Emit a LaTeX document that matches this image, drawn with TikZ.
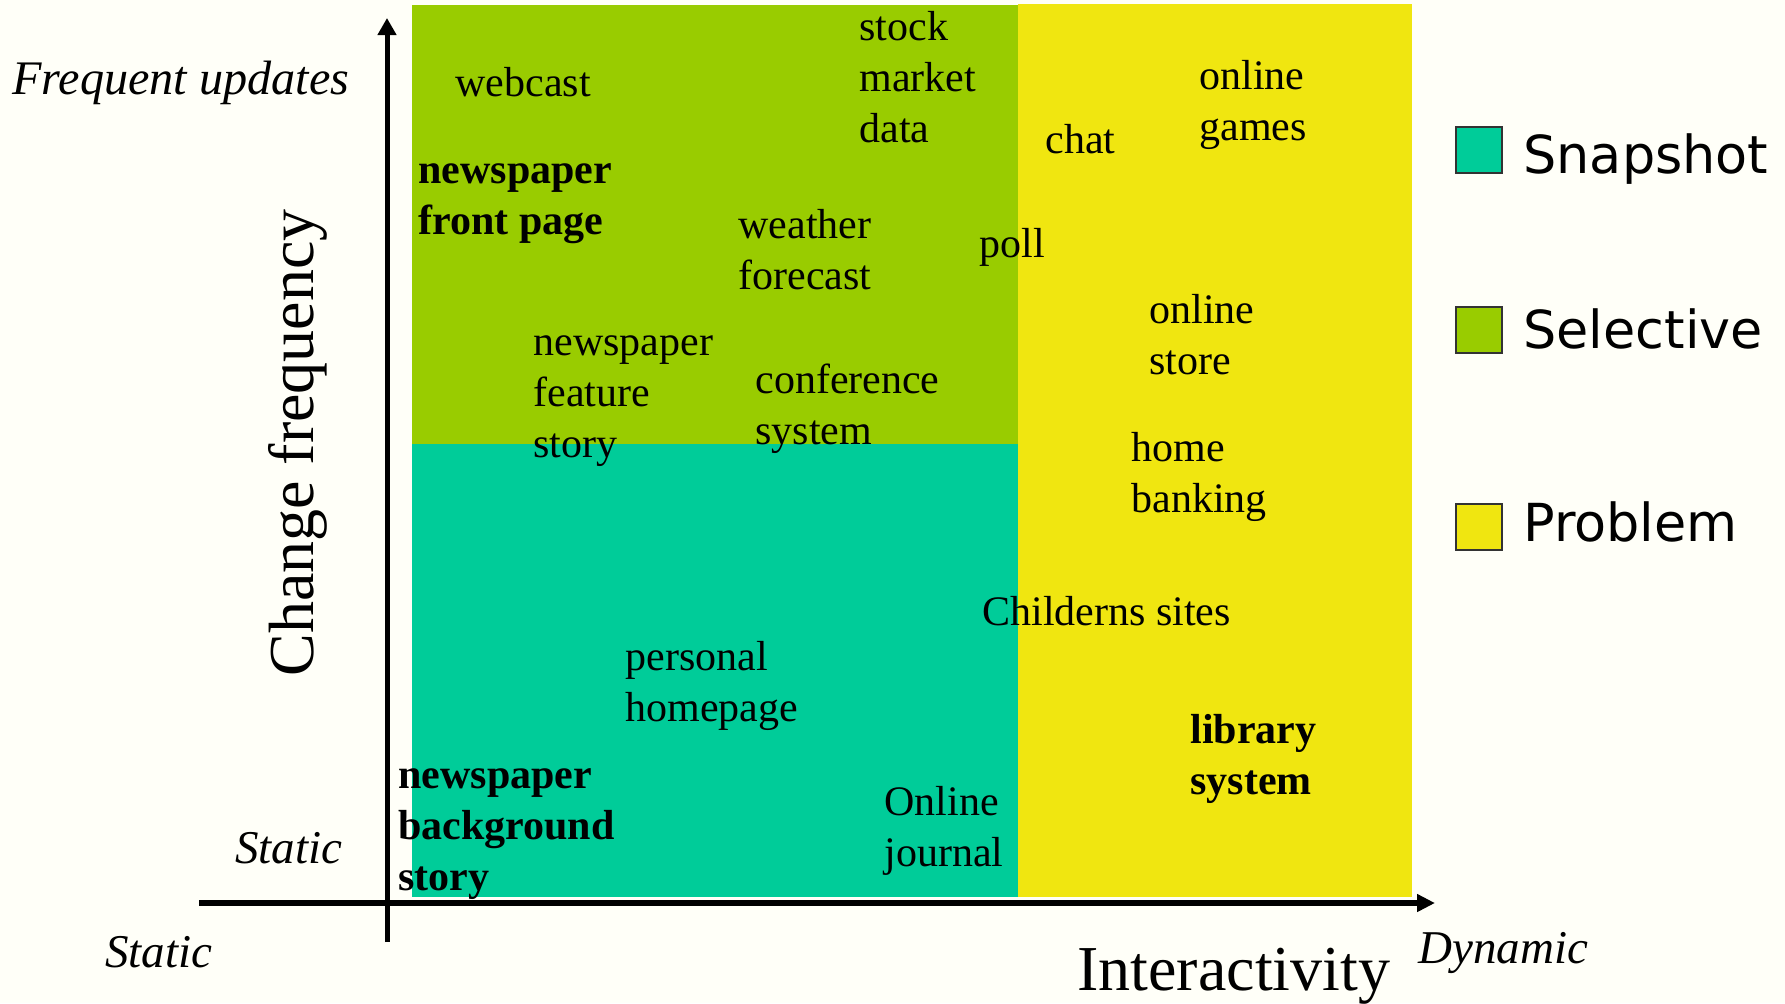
\documentclass[tikz,border=0pt]{standalone}
\usepackage{fontspec}
\setmainfont{Liberation Serif}
\newfontfamily\legfont{DejaVu Sans}
\usetikzlibrary{arrows.meta}
\definecolor{bgc}{RGB}{255,255,248}
\definecolor{selgreen}{RGB}{153,204,0}
\definecolor{snapteal}{RGB}{0,204,153}
\definecolor{probyellow}{RGB}{240,230,16}
\newcommand{\twol}[2]{\vtop{\hbox{#1}\hbox{#2}}}
\newcommand{\threel}[3]{\vtop{\hbox{#1}\hbox{#2}\hbox{#3}}}
\begin{document}
\begin{tikzpicture}[x=0.5pt,y=-0.5pt,
  lbl/.style={anchor=base west, inner sep=0pt, font=\fontsize{21}{25.5}\selectfont},
  blbl/.style={anchor=base west, inner sep=0pt, font=\fontsize{21}{25.5}\selectfont\bfseries},
  ital/.style={anchor=base west, inner sep=0pt, font=\fontsize{23.5}{28}\selectfont\itshape},
  axtitle/.style={anchor=base west, inner sep=0pt, font=\fontsize{32}{38}\selectfont},
  legbox/.style={draw=black!80, line width=0.75pt, minimum size=23pt, inner sep=0pt},
  legtext/.style={anchor=base west, inner sep=0pt, font=\legfont\fontsize{26.2}{31}\selectfont},
  xaxis/.style={line width=3pt, -{Triangle[length=9pt,width=8.5pt]}},
  yaxis/.style={line width=2.5pt, -{Triangle[length=8.5pt,width=9pt]}}]
\useasboundingbox (0,0) rectangle (1785,1003);
\fill[bgc] (0,0) rectangle (1785,1003);
% regions
\fill[selgreen] (412,5) rectangle (1018,444);
\fill[snapteal] (412,444) rectangle (1018,897);
\fill[probyellow] (1018,4) rectangle (1412,897);
% axes
\coordinate (xs) at (199,903);
\coordinate (xe) at (1435,903);
\coordinate (ys) at (387,942);
\coordinate (ye) at (387,18);
\draw[xaxis] (xs) -- (xe);
\draw[yaxis] (ys) -- (ye);
% axis labels
\node[ital, font=\fontsize{24.1}{28}\selectfont\itshape] (freq) at (12,94) {Frequent updates};
\node[ital] (ystatic) at (235,863) {Static};
\node[ital] (xstatic) at (105,967) {Static};
\node[ital] (dyn) at (1418,963) {Dynamic};
\node[axtitle, rotate=90] (chf) at (313,677) {Change frequency};
\node[axtitle] (inter) at (1077,990) {Interactivity};
% items
\node[lbl] (webcast) at (455,96) {webcast};
\node[blbl] (nfp) at (418,183) {\twol{newspaper}{front page}};
\node[lbl] (stock) at (859,40) {\threel{stock}{market}{data}};
\node[lbl] (weather) at (738,238) {\twol{weather}{forecast}};
\node[lbl] (nfs) at (533,355) {\threel{newspaper}{feature}{story}};
\node[lbl] (conf) at (755,393) {\twol{conference}{system}};
\node[lbl] (chat) at (1045,153) {chat};
\node[lbl] (games) at (1199,89) {\twol{online}{games}};
\node[lbl] (poll) at (979,257) {poll};
\node[lbl] (store) at (1149,323) {\twol{online}{store}};
\node[lbl] (bank) at (1131,461) {\twol{home}{banking}};
\node[lbl] (child) at (982,625) {Childerns sites};
\node[lbl] (pers) at (625,670) {\twol{personal}{homepage}};
\node[lbl] (journal) at (884,815) {\twol{Online}{journal}};
\node[blbl] (lib) at (1190,743) {\twol{library}{system}};
\node[blbl] (nbs) at (398,788) {\threel{newspaper}{background}{story}};
% legend
\node[legbox, fill=snapteal] (b1) at (1479,150) {};
\node[legbox, fill=selgreen] (b2) at (1479,330) {};
\node[legbox, fill=probyellow] (b3) at (1479,527) {};
\node[legtext] (t1) at (1523,173) {Snapshot};
\node[legtext] (t2) at (1523,348) {Selective};
\node[legtext] (t3) at (1523,541) {Problem};
\end{tikzpicture}
\end{document}
